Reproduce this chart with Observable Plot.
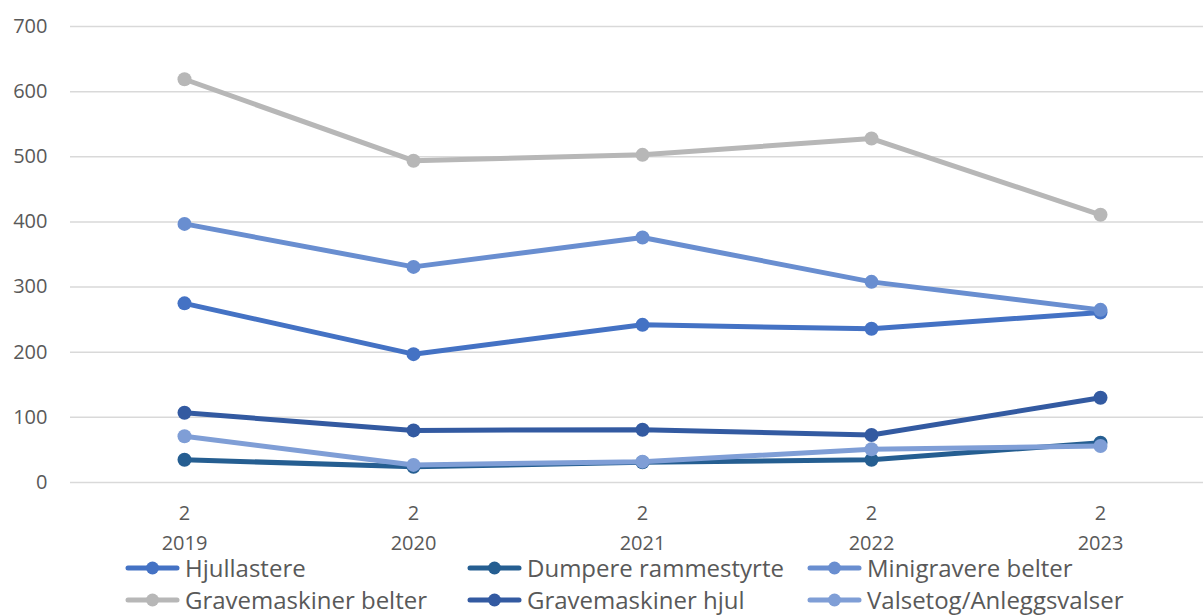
<!DOCTYPE html>
<html><head><meta charset="utf-8">
<script src="https://cdn.jsdelivr.net/npm/d3@7"></script>
<script src="https://cdn.jsdelivr.net/npm/@observablehq/plot@0.6"></script>
<style>
html,body{margin:0;padding:0;background:#fff;}
body{font-family:"Open Sans",sans-serif;width:1203px;height:615px;overflow:hidden;position:relative;}
#chart svg{display:block;overflow:visible;}
#legend{position:absolute;left:0;top:552px;display:grid;grid-template-columns:342px 340px auto;padding-left:125px;}
.item{display:flex;align-items:center;height:32px;font-size:24px;line-height:32px;color:#595959;white-space:nowrap;}
.item svg{margin-right:5px;flex:none;}
</style></head><body>
<div id="chart"></div><div id="legend"></div>
<script>
const years = ["2019","2020","2021","2022","2023"];
const yearTopLabels = ["2","2","2","2","2"];
const seriesNames = ["Hjullastere","Dumpere rammestyrte","Minigravere belter","Gravemaskiner belter","Gravemaskiner hjul","Valsetog/Anleggsvalser"];
const hjullastere = [275,197,242,236,261];
const dumpereRammestyrte = [35,24,31,35,61];
const minigravereBelter = [397,331,376,308,265];
const gravemaskinerBelter = [619,494,503,528,411];
const gravemaskinerHjul = [107,80,81,73,130];
const valsetogAnleggsvalser = [71,27,32,51,56];
const yTicks = [0,100,200,300,400,500,600,700];
const seriesColors = ["#4472C4","#255E91","#698ED0","#B7B7B7","#335AA1","#7F9ED6"];

const seriesValues = [hjullastere,dumpereRammestyrte,minigravereBelter,gravemaskinerBelter,gravemaskinerHjul,valsetogAnleggsvalser];
const table = seriesNames.flatMap((s,si)=>years.map((y,i)=>({series:s, year:y, value:seriesValues[si][i]})));
const topLabel = new Map(years.map((y,i)=>[y,yearTopLabels[i]]));

const marks = [
  Plot.gridY(yTicks,{stroke:"#d9d9d9",strokeOpacity:1,strokeWidth:1.5}),
  Plot.axisY(yTicks,{tickSize:0,tickPadding:23,fontSize:20,fill:"#595959",label:null,fontFamily:"Open Sans"}),
  Plot.axisX({tickSize:0,tickPadding:16,fontSize:20,lineHeight:1.5,fill:"#595959",label:null,fontFamily:"Open Sans",
    tickFormat:d=>topLabel.get(d)+"\n"+d})
];
seriesNames.forEach((s,si)=>{
  const d = table.filter(r=>r.series===s);
  marks.push(Plot.line(d,{x:"year",y:"value",stroke:seriesColors[si],strokeWidth:5,strokeLinejoin:"round"}));
  marks.push(Plot.dot(d,{x:"year",y:"value",fill:seriesColors[si],r:7,stroke:"none"}));
});

const chart = Plot.plot({
  width:1203, height:560,
  marginLeft:70, marginRight:0, marginTop:26, marginBottom:78,
  x:{type:"point",domain:years,range:[184,1100],padding:0},
  y:{domain:[0,700]},
  style:{fontFamily:"Open Sans",background:"transparent",overflow:"visible"},
  marks
});
document.getElementById("chart").appendChild(chart);

const legend = document.getElementById("legend");
seriesNames.forEach((s,si)=>{
  const div = document.createElement("div");
  div.className="item";
  div.innerHTML = `<svg width="55" height="16"><line x1="3" x2="52" y1="8" y2="8" stroke="${seriesColors[si]}" stroke-width="5" stroke-linecap="round"/><circle cx="27.5" cy="8" r="6.5" fill="${seriesColors[si]}"/></svg><span>${s}</span>`;
  legend.appendChild(div);
});
</script>
</body></html>
